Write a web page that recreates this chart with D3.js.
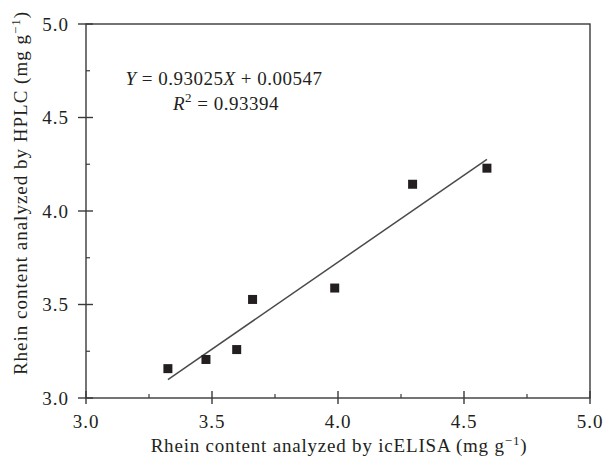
<!DOCTYPE html>
<html>
<head>
<meta charset="utf-8">
<script src="https://cdn.jsdelivr.net/npm/d3@7"></script>
<style>
    body { margin: 0; background: #fff; }
    text { font-family: 'Liberation Serif', 'DejaVu Serif', serif; fill: #231f20; }
</style>
</head>
<body>
<svg id="chart" width="604" height="460"></svg>
<script>
// icELISA (x) vs HPLC (y) rhein content, mg/g
const elisaValues = [3.325, 3.476, 3.598, 3.661, 3.987, 4.296, 4.591];
const hplcValues = [3.157, 3.206, 3.259, 3.527, 3.588, 4.143, 4.229];
const tickValues = [3.0, 3.5, 4.0, 4.5, 5.0];
const minorTicks = [3.25, 3.75, 4.25, 4.75];
const slope = 0.93025;
const intercept = 0.00547;

const svg = d3.select('#chart');
const margin = { top: 24, right: 14, bottom: 62, left: 86 };
const width = 604 - margin.left - margin.right;
const height = 460 - margin.top - margin.bottom;
const axisColour = '#3a3a3a';

const xScale = d3.scaleLinear().domain([3, 5]).range([0, width]);
const yScale = d3.scaleLinear().domain([3, 5]).range([height, 0]);

const g = svg.append('g').attr('transform', `translate(${margin.left},${margin.top})`);

// frame
g.append('rect')
    .attr('width', width)
    .attr('height', height)
    .attr('fill', 'none')
    .attr('stroke', axisColour)
    .attr('stroke-width', 1.4);

// major ticks cross the axis, minor ticks sit inside
const xAxis = g.append('g').attr('transform', `translate(0,${height})`);
xAxis.selectAll('.major').data(tickValues).enter().append('line')
    .attr('x1', d => xScale(d)).attr('x2', d => xScale(d))
    .attr('y1', -7).attr('y2', 6)
    .attr('stroke', axisColour).attr('stroke-width', 1.4);
xAxis.selectAll('.minor').data(minorTicks).enter().append('line')
    .attr('x1', d => xScale(d)).attr('x2', d => xScale(d))
    .attr('y1', -4).attr('y2', 0)
    .attr('stroke', axisColour).attr('stroke-width', 1.2);
xAxis.selectAll('text').data(tickValues).enter().append('text')
    .attr('x', d => xScale(d))
    .attr('y', 30)
    .attr('text-anchor', 'middle')
    .attr('font-size', 19)
    .attr('letter-spacing', 1)
    .text(d => d.toFixed(1));

const yAxis = g.append('g');
yAxis.selectAll('.major').data(tickValues).enter().append('line')
    .attr('y1', d => yScale(d)).attr('y2', d => yScale(d))
    .attr('x1', -8).attr('x2', 7)
    .attr('stroke', axisColour).attr('stroke-width', 1.4);
yAxis.selectAll('.minor').data(minorTicks).enter().append('line')
    .attr('y1', d => yScale(d)).attr('y2', d => yScale(d))
    .attr('x1', 0).attr('x2', 4)
    .attr('stroke', axisColour).attr('stroke-width', 1.2);
yAxis.selectAll('text').data(tickValues).enter().append('text')
    .attr('x', -17)
    .attr('y', d => yScale(d))
    .attr('dy', '0.35em')
    .attr('text-anchor', 'end')
    .attr('font-size', 19)
    .attr('letter-spacing', 1)
    .text(d => d.toFixed(1));

// axis titles
const xTitle = svg.append('text')
    .attr('x', margin.left + width / 2 + 1)
    .attr('y', 452)
    .attr('text-anchor', 'middle')
    .attr('font-size', 19)
    .attr('letter-spacing', 0.8);
xTitle.append('tspan').text('Rhein content analyzed by icELISA (mg g');
xTitle.append('tspan').attr('dy', -7).attr('font-size', 13).text('\u22121');
xTitle.append('tspan').attr('dy', 7).text(')');

const yTitle = svg.append('text')
    .attr('transform', `translate(27,${margin.top + height / 2 - 18}) rotate(-90)`)
    .attr('text-anchor', 'middle')
    .attr('font-size', 19)
    .attr('letter-spacing', 1);
yTitle.append('tspan').text('Rhein content analyzed by HPLC (mg g');
yTitle.append('tspan').attr('dy', -7).attr('font-size', 13).text('\u22121');
yTitle.append('tspan').attr('dy', 7).text(')');

// fitted line over the data range
const xExtent = d3.extent(elisaValues);
g.append('line')
    .attr('x1', xScale(xExtent[0]))
    .attr('y1', yScale(slope * xExtent[0] + intercept))
    .attr('x2', xScale(xExtent[1]))
    .attr('y2', yScale(slope * xExtent[1] + intercept))
    .attr('stroke', '#4a4a4a')
    .attr('stroke-width', 1.5);

// points
const size = 9;
g.selectAll('.pt').data(elisaValues).enter().append('rect')
    .attr('class', 'pt')
    .attr('x', d => xScale(d) - size / 2)
    .attr('y', (d, i) => yScale(hplcValues[i]) - size / 2)
    .attr('width', size)
    .attr('height', size)
    .attr('fill', '#231f20');

// equation
const eq = svg.append('text')
    .attr('x', 224)
    .attr('y', 85)
    .attr('text-anchor', 'middle')
    .attr('font-size', 19)
    .attr('letter-spacing', 0.5);
eq.append('tspan').attr('font-style', 'italic').text('Y');
eq.append('tspan').text(' = 0.93025');
eq.append('tspan').attr('font-style', 'italic').text('X');
eq.append('tspan').text(' + 0.00547');

const r2 = svg.append('text')
    .attr('x', 226)
    .attr('y', 110)
    .attr('text-anchor', 'middle')
    .attr('font-size', 19)
    .attr('letter-spacing', 0.5);
r2.append('tspan').attr('font-style', 'italic').text('R');
r2.append('tspan').attr('dy', -8).attr('font-size', 13).text('2');
r2.append('tspan').attr('dy', 8).text(' = 0.93394');
</script>
</body>
</html>
